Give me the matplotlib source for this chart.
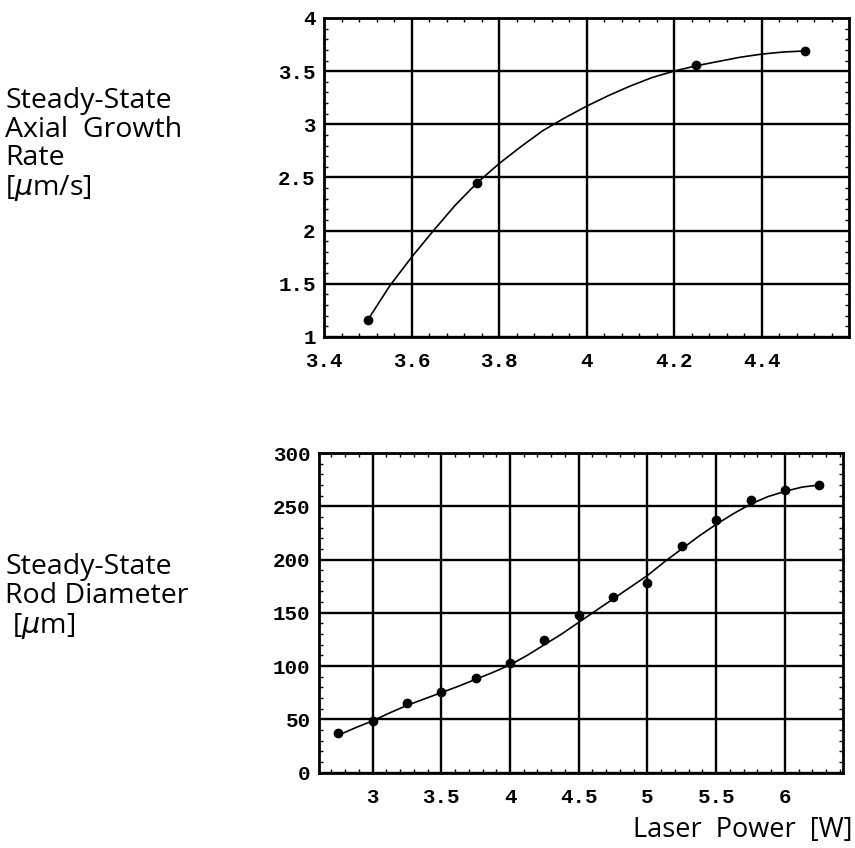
import matplotlib
matplotlib.use("Agg")
import matplotlib.pyplot as plt
from matplotlib.ticker import MultipleLocator

# ---- data: top panel (axial growth rate) ----
top_x = [3.5, 3.75, 4.25, 4.5]
top_y = [1.16, 2.45, 3.56, 3.69]
# fitted curve
top_curve_x = [3.5, 3.55, 3.6, 3.65, 3.7, 3.75, 3.8, 3.85, 3.9, 3.95, 4.0, 4.05,
               4.1, 4.15, 4.2, 4.25, 4.3, 4.35, 4.4, 4.45, 4.5]
top_curve_y = [1.16, 1.48, 1.75, 2.00, 2.24, 2.45, 2.63, 2.79, 2.94, 3.06, 3.17, 3.27,
               3.36, 3.44, 3.50, 3.55, 3.59, 3.63, 3.66, 3.68, 3.69]
top_xticks = [3.4, 3.6, 3.8, 4.0, 4.2, 4.4]
top_xticklabels = ["3.4", "3.6", "3.8", "4", "4.2", "4.4"]
top_yticks = [1, 1.5, 2, 2.5, 3, 3.5, 4]
top_yticklabels = ["1", "1.5", "2", "2.5", "3", "3.5", "4"]

# ---- data: bottom panel (rod diameter) ----
bot_x = [2.75, 3.0, 3.25, 3.5, 3.75, 4.0, 4.25, 4.5, 4.75, 5.0, 5.25, 5.5, 5.75, 6.0, 6.25]
bot_y = [37, 48, 65, 76, 89, 103, 124, 148, 165, 178, 213, 237, 256, 265, 270]
bot_curve_x = [2.75, 2.875, 3.0, 3.125, 3.25, 3.375, 3.5, 3.625, 3.75, 3.875, 4.0,
               4.125, 4.25, 4.375, 4.5, 4.625, 4.75, 4.875, 5.0, 5.125, 5.25, 5.375,
               5.5, 5.625, 5.75, 5.875, 6.0, 6.125, 6.25]
bot_curve_y = [35, 42, 48.5, 56, 63, 69, 75, 81, 87.5, 94, 101,
               110, 120, 130, 141, 152, 163, 174, 185, 198, 210, 222,
               233, 243, 252, 259, 264, 268, 270]
bot_xticks = [3, 3.5, 4, 4.5, 5, 5.5, 6]
bot_xticklabels = ["3", "3.5", "4", "4.5", "5", "5.5", "6"]
bot_yticks = [0, 50, 100, 150, 200, 250, 300]
bot_yticklabels = ["0", "50", "100", "150", "200", "250", "300"]

mono = "Liberation Mono"
sans = "Open Sans"

fig = plt.figure(figsize=(8.55, 8.48), dpi=100)
fig.patch.set_facecolor("white")

def style(ax, xt, xtl, yt, ytl, xminor, yminor):
    ax.set_xticks(xt)
    ax.set_xticklabels(xtl, fontfamily=mono, fontsize=15, fontweight="bold")
    ax.set_yticks(yt)
    ax.set_yticklabels(ytl, fontfamily=mono, fontsize=15, fontweight="bold")
    ax.xaxis.set_minor_locator(MultipleLocator(xminor))
    ax.yaxis.set_minor_locator(MultipleLocator(yminor))
    ax.tick_params(which="major", length=0, pad=6)
    ax.tick_params(axis="x", which="major", pad=11)
    ax.tick_params(which="minor", direction="in", length=3, width=1,
                   top=True, right=True, bottom=True, left=True)
    ax.grid(True, which="major", color="black", linewidth=1.7)
    for s in ax.spines.values():
        s.set_linewidth(2)
        s.set_color("black")
    ax.set_axisbelow(True)

# top panel
ax1 = fig.add_axes([0.379, 0.6026, 0.614, 0.3762])
ax1.plot(top_curve_x, top_curve_y, color="black", linewidth=1.2)
ax1.plot(top_x, top_y, "o", color="black", markersize=6)
ax1.set_xlim(3.4, 4.6)
ax1.set_ylim(1, 4)
style(ax1, top_xticks, top_xticklabels, top_yticks, top_yticklabels, 0.04, 0.1)

# bottom panel
ax2 = fig.add_axes([0.373, 0.089, 0.6126, 0.3768])
ax2.plot(bot_curve_x, bot_curve_y, color="black", linewidth=1.2)
ax2.plot(bot_x, bot_y, "o", color="black", markersize=6)
ax2.set_xlim(2.61, 6.42)
ax2.set_ylim(0, 300)
style(ax2, bot_xticks, bot_xticklabels, bot_yticks, bot_yticklabels, 0.1, 10)

# left-hand labels
fig.text(0.006, 0.829, "Steady-State\nAxial  Growth\nRate\n[$\\mu$m/s]",
         fontfamily=sans, fontsize=20.5, va="center", ha="left", linespacing=1.03)
fig.text(0.006, 0.296, "Steady-State\nRod Diameter\n [$\\mu$m]",
         fontfamily=sans, fontsize=20.5, va="center", ha="left", linespacing=1.03)
fig.text(0.997, 0.021, "Laser  Power  [W]", fontfamily=sans, fontsize=19.5,
         ha="right", va="center")

fig.savefig("out.png", dpi=100, facecolor="white")
